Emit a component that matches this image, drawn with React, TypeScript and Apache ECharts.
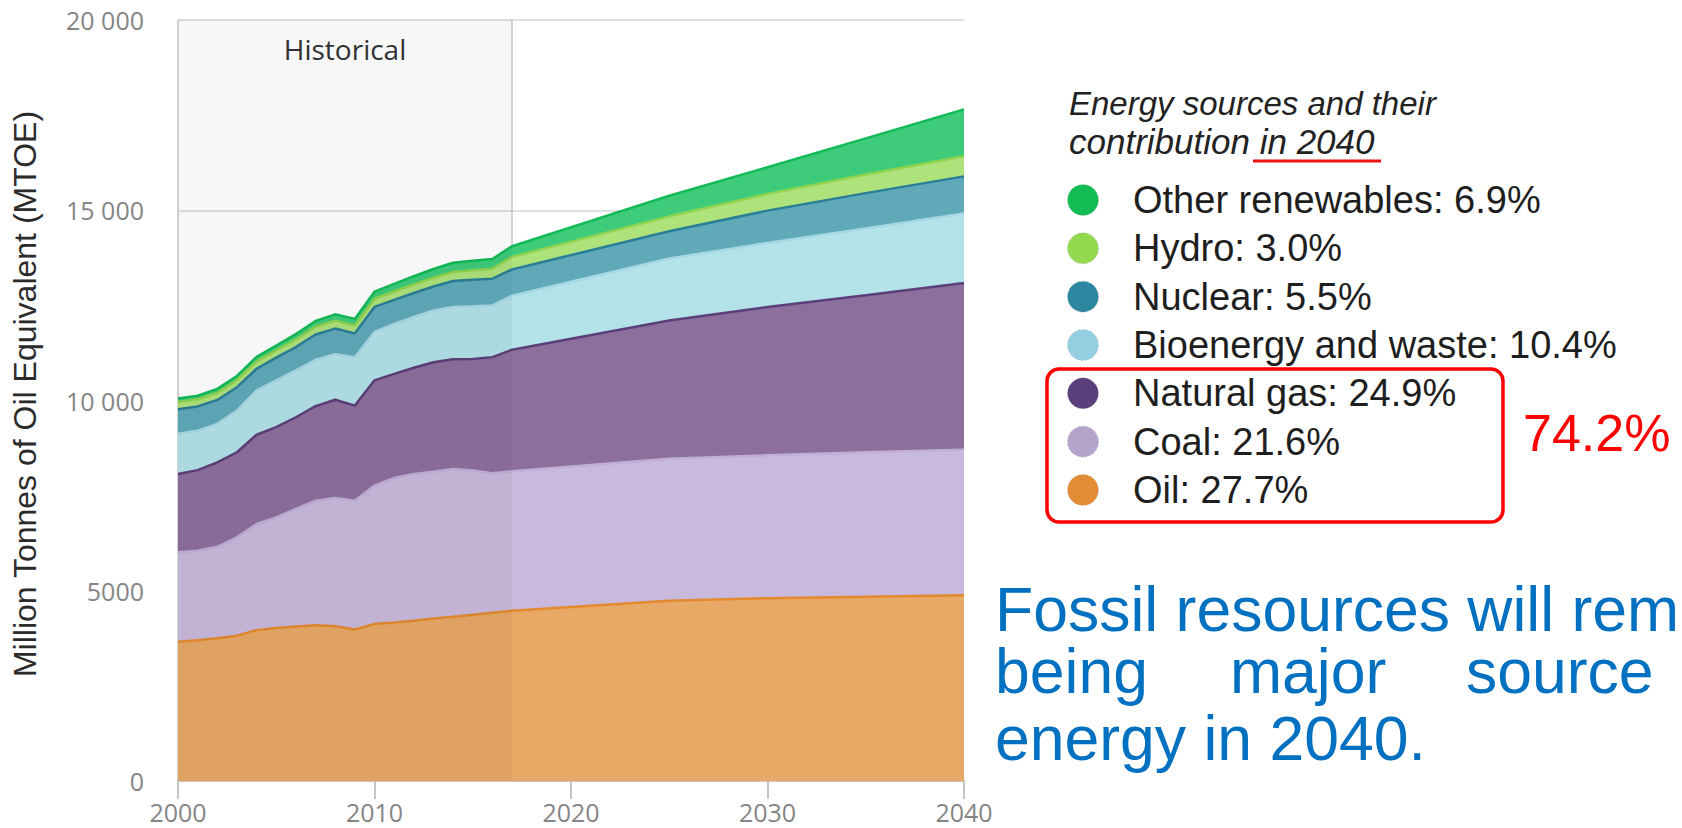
import React, { useEffect, useRef } from "react";
import * as echarts from "echarts";

// ---------- data ----------
const years = [
  2000, 2001, 2002, 2003, 2004, 2005, 2006, 2007, 2008, 2009, 2010, 2011, 2012,
  2013, 2014, 2015, 2016, 2017, 2025, 2030, 2035, 2040,
];
const oil = [
  3660, 3700, 3750, 3820, 3965, 4020, 4060, 4095, 4070, 3980, 4125, 4165, 4210,
  4270, 4315, 4370, 4420, 4475, 4740, 4805, 4840, 4885,
];
const coal = [
  2350, 2350, 2405, 2585, 2790, 2910, 3090, 3270, 3370, 3385, 3640, 3800, 3860,
  3860, 3885, 3790, 3670, 3665, 3730, 3755, 3800, 3820,
];
const gas = [
  2060, 2120, 2220, 2235, 2345, 2370, 2410, 2485, 2580, 2500, 2765, 2735, 2790,
  2875, 2885, 2930, 3050, 3195, 3635, 3895, 4125, 4385,
];
const bioenergy = [
  1055, 1035, 1010, 1095, 1165, 1230, 1230, 1220, 1195, 1270, 1270, 1315, 1335,
  1360, 1370, 1385, 1360, 1420, 1625, 1685, 1755, 1825,
];
const nuclear = [
  645, 640, 630, 615, 570, 595, 615, 665, 675, 630, 660, 630, 630, 630, 685, 700,
  700, 690, 720, 850, 930, 975,
];
const hydro = [
  190, 185, 190, 190, 195, 195, 200, 205, 210, 205, 215, 220, 225, 230, 240, 250,
  265, 330, 390, 440, 490, 530,
];
const otherRenewables = [
  90, 95, 100, 105, 115, 125, 140, 150, 165, 175, 185, 200, 215, 230, 240, 250,
  255, 280, 540, 700, 950, 1230,
];

// bottom -> top
const seriesNames = [
  "Oil",
  "Coal",
  "Natural gas",
  "Bioenergy and waste",
  "Nuclear",
  "Hydro",
  "Other renewables",
];
const seriesValues = [oil, coal, gas, bioenergy, nuclear, hydro, otherRenewables];
const share2040 = ["27.7", "21.6", "24.9", "10.4", "5.5", "3.0", "6.9"];
const fossilShare = "74.2%";
const historicalRange = [2000, 2017];
const yRange = [0, 20000];

// ---------- styles ----------
const fills = ["#e8a866", "#c9b9dc", "#8d6f9d", "#b3e2e9", "#5fa9b9", "#aee27b", "#3ecc7b"];
const strokes = ["#e38a2e", "#bfaed6", "#5b3f7a", "#a6d8e4", "#2b7e98", "#8fd44f", "#12bb57"];
const markers = ["#e38b35", "#b4a3cb", "#5b3f7a", "#93cfe0", "#2d87a1", "#93d94f", "#12bd55"];

const SLIDE_FONT = '"Liberation Sans", Arial, sans-serif';
const CHART_FONT = '"Open Sans", sans-serif';

export default function App() {
  const ref = useRef<HTMLDivElement>(null);

  useEffect(() => {
    if (!ref.current) return;
    const chart = echarts.init(ref.current, undefined, { renderer: "svg" });

    // cumulative tops (stacked layers), drawn from the top layer down so
    // each lower layer paints over the one above it
    const cumulative: number[][] = [];
    seriesValues.forEach((vals, i) => {
      cumulative.push(vals.map((v, j) => v + (i > 0 ? cumulative[i - 1][j] : 0)));
    });

    const areaSeries = seriesNames
      .map((name, i) => ({
        name,
        type: "line",
        symbol: "none",
        showSymbol: false,
        smooth: false,
        silent: true,
        color: markers[i],
        lineStyle: { color: strokes[i], width: 2.5 },
        areaStyle: { color: fills[i], opacity: 1 },
        data: years.map((yr, j) => [yr, cumulative[i][j]]),
        z: 2,
      }))
      .reverse();

    const legendTop = 200;
    const legendStep = 48.33;
    const legendGraphics: any[] = [];
    seriesNames
      .map((_, i) => seriesNames.length - 1 - i)
      .forEach((idx, k) => {
        const cy = legendTop + k * legendStep;
        legendGraphics.push({
          type: "circle",
          shape: { cx: 1083, cy, r: 15.5 },
          style: { fill: markers[idx], stroke: "rgba(170,170,170,0.5)", lineWidth: 1, lineDash: [2, 2] },
        });
        legendGraphics.push({
          type: "text",
          x: 1133,
          y: cy,
          style: {
            text: `${seriesNames[idx]}: ${share2040[idx]}%`,
            fontFamily: SLIDE_FONT,
            fontSize: 38,
            fill: "#1e1e1e",
            align: "left",
            verticalAlign: "middle",
          },
        });
      });

    const blue = (text: string, x: number, y: number) => ({
      type: "text",
      x,
      y,
      style: {
        text,
        fontFamily: SLIDE_FONT,
        fontSize: 62.5,
        fill: "#0070c0",
        align: "left",
        verticalAlign: "middle",
      },
    });

    const option: any = {
      animation: false,
      backgroundColor: "#ffffff",
      textStyle: { fontFamily: CHART_FONT },
      grid: {
        left: 178,
        top: 20,
        width: 786,
        height: 761,
        containLabel: false,
        outerBoundsMode: "none",
      },
      xAxis: {
        type: "value",
        min: 2000,
        max: 2040,
        interval: 10,
        axisLine: { show: true, onZero: false, lineStyle: { color: "#c4c4c4", width: 2 } },
        axisTick: { show: true, length: 18, lineStyle: { color: "#c4c4c4", width: 2 } },
        axisLabel: {
          margin: 18,
          color: "#858585",
          fontFamily: CHART_FONT,
          fontSize: 25,
          formatter: (v: number) => String(v),
        },
        splitLine: { show: false },
      },
      yAxis: {
        type: "value",
        min: yRange[0],
        max: yRange[1],
        interval: 5000,
        axisLine: { show: true, lineStyle: { color: "#c4c4c4", width: 1.5 } },
        axisTick: { show: false },
        axisLabel: {
          margin: 34,
          color: "#858585",
          fontFamily: CHART_FONT,
          fontSize: 25,
          formatter: (v: number) => (v >= 10000 ? `${v / 1000} 000` : String(v)),
        },
        splitLine: { show: true, lineStyle: { color: "#d4d4d4", width: 1.5 } },
      },
      series: [
        // boundary line + label (behind areas)
        {
          type: "custom",
          silent: true,
          z: 1,
          encode: { x: [0, 1], y: [2, 3] },
          data: [[historicalRange[0], historicalRange[1], yRange[0], yRange[1]]],
          renderItem: (params: any, api: any) => {
            const top = api.coord([api.value(1), api.value(3)]);
            const bottom = api.coord([api.value(1), api.value(2)]);
            const left = api.coord([api.value(0), api.value(3)]);
            return {
              type: "group",
              children: [
                {
                  type: "line",
                  shape: { x1: top[0], y1: top[1], x2: bottom[0], y2: bottom[1] },
                  style: { stroke: "#c8c8c8", lineWidth: 1.5 },
                },
                {
                  type: "text",
                  x: (left[0] + top[0]) / 2,
                  y: top[1] + 29,
                  style: {
                    text: "Historical",
                    fontFamily: CHART_FONT,
                    fontSize: 28,
                    fill: "#333333",
                    align: "center",
                    verticalAlign: "middle",
                  },
                },
              ],
            };
          },
        },
        ...areaSeries,
        // historical shading overlay
        {
          type: "custom",
          silent: true,
          z: 5,
          encode: { x: [0, 1], y: [2, 3] },
          data: [[historicalRange[0], historicalRange[1], yRange[0], yRange[1]]],
          renderItem: (params: any, api: any) => {
            const p0 = api.coord([api.value(0), api.value(3)]);
            const p1 = api.coord([api.value(1), api.value(2)]);
            return {
              type: "rect",
              shape: { x: p0[0], y: p0[1], width: p1[0] - p0[0], height: p1[1] - p0[1] },
              style: { fill: "rgba(0,0,0,0.032)" },
            };
          },
        },
      ],
      graphic: [
        {
          type: "text",
          x: 25,
          y: 394,
          rotation: Math.PI / 2,
          style: {
            text: "Million Tonnes of Oil Equivalent (MTOE)",
            fontFamily: SLIDE_FONT,
            fontSize: 32,
            fill: "#2b2b2b",
            align: "center",
            verticalAlign: "middle",
          },
        },
        {
          type: "text",
          x: 1069,
          y: 103,
          style: {
            text: "Energy sources and their",
            fontFamily: SLIDE_FONT,
            fontStyle: "italic",
            fontSize: 33,
            fill: "#222222",
            align: "left",
            verticalAlign: "middle",
          },
        },
        {
          type: "text",
          x: 1069,
          y: 141,
          style: {
            text: "contribution in 2040",
            fontFamily: SLIDE_FONT,
            fontStyle: "italic",
            fontSize: 35,
            fill: "#222222",
            align: "left",
            verticalAlign: "middle",
          },
        },
        {
          type: "line",
          shape: { x1: 1253, y1: 161, x2: 1381, y2: 161 },
          style: { stroke: "#ee1111", lineWidth: 3 },
        },
        ...legendGraphics,
        {
          type: "rect",
          shape: { x: 1047, y: 369, width: 456, height: 153, r: 12 },
          style: { fill: "none", stroke: "#ff0000", lineWidth: 3.5 },
        },
        {
          type: "text",
          x: 1523,
          y: 433,
          style: {
            text: fossilShare,
            fontFamily: SLIDE_FONT,
            fontSize: 52,
            fill: "#ff0000",
            align: "left",
            verticalAlign: "middle",
          },
        },
        blue("Fossil resources will rem", 995, 609),
        blue("being", 995, 671),
        blue("major", 1230, 671),
        blue("source", 1466, 671),
        blue("energy in 2040.", 995, 738),
      ],
    };

    chart.setOption(option);
    return () => chart.dispose();
  }, []);

  return (
    <div
      ref={ref}
      style={{ position: "fixed", left: 0, top: 0, width: 1682, height: 828, background: "#fff" }}
    />
  );
}
